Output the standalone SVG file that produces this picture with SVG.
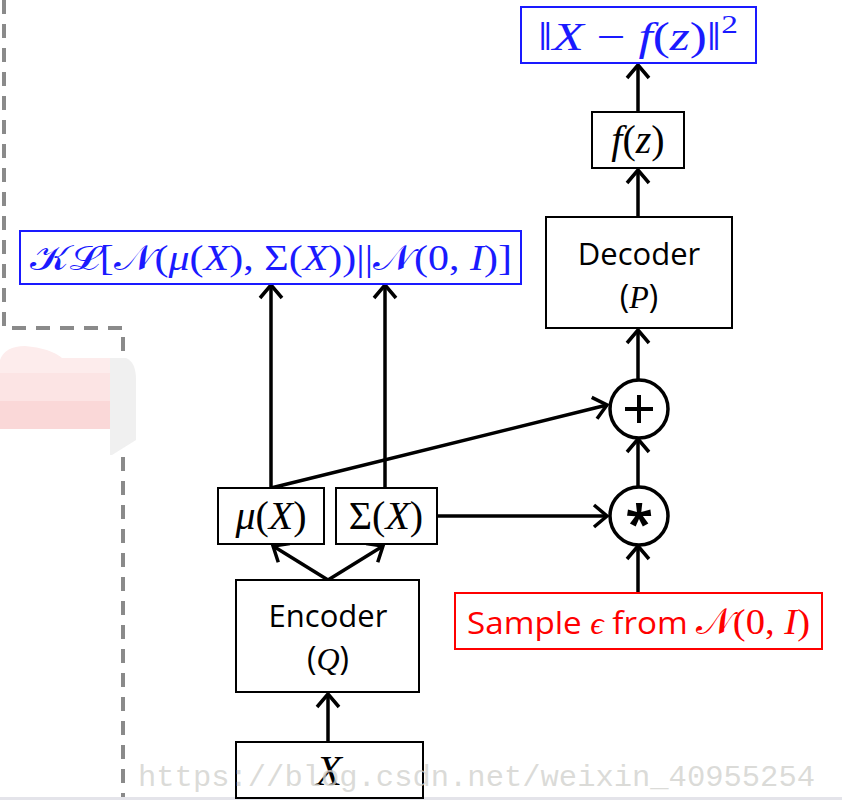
<svg xmlns="http://www.w3.org/2000/svg" width="842" height="800" viewBox="0 0 842 800">
<defs>
<style>
.box{fill:#fff;stroke:#000;stroke-width:2}
.bbox{fill:#fff;stroke:#1a1aff;stroke-width:2}
.rbox{fill:#fff;stroke:#ff0000;stroke-width:2}
.edge{stroke:#000;stroke-width:3.5;fill:none;marker-end:url(#arr)}
.math{font-family:"Liberation Serif","DejaVu Serif",serif}
.it{font-style:italic}
.sans{font-family:"Open Sans","Liberation Sans",sans-serif}
.dash{stroke:#8a8a8a;stroke-width:4;fill:none;stroke-dasharray:14 10}
</style>
<marker id="arr" viewBox="-16 -14 20 28" markerWidth="20" markerHeight="28" refX="0" refY="0" orient="auto" markerUnits="userSpaceOnUse">
<path d="M-13,-11 L0,0 L-13,11" fill="none" stroke="#000" stroke-width="3.5" stroke-linejoin="miter"/>
</marker>
</defs>
<rect width="842" height="800" fill="#fff"/>
<g id="background">
<path class="dash" d="M4,0 V328 H123 V800"/>
<path d="M0,360 Q5,346 25,346 Q50,348 62,358 H112 V373 H0 Z" fill="#fdecec"/>
<rect x="0" y="373" width="112" height="28" fill="#fce4e4"/>
<rect x="0" y="401" width="112" height="28" fill="#fad8d8"/>
<path d="M110,358 H126 Q136,362 136,380 V440 L112,455 H110 Z" fill="#f0f0f0"/>
<rect x="0" y="797" width="842" height="3" fill="#e4e4ea"/>
</g>
<g id="connectors">
<line class="edge" x1="638" y1="112" x2="638" y2="65"/>
<line class="edge" x1="638" y1="217" x2="638" y2="170"/>
<line class="edge" x1="638" y1="379" x2="638" y2="330"/>
<line class="edge" x1="638" y1="486" x2="638" y2="439"/>
<line class="edge" x1="638" y1="593" x2="638" y2="546"/>
<line class="edge" x1="271" y1="488" x2="271" y2="285"/>
<line class="edge" x1="385" y1="488" x2="385" y2="285"/>
<line class="edge" x1="271" y1="488" x2="607" y2="405"/>
<line class="edge" x1="437" y1="516" x2="607" y2="516"/>
<line class="edge" x1="328" y1="580" x2="273" y2="546"/>
<line class="edge" x1="328" y1="580" x2="383" y2="546"/>
<line class="edge" x1="328" y1="742" x2="328" y2="694"/>
</g>
<g id="loss">
<rect class="bbox" x="521" y="7" width="235" height="56"/>
<text class="math" x="538" y="50" font-size="40" fill="#1a1aff" textLength="200" lengthAdjust="spacingAndGlyphs">‖<tspan class="it">X</tspan> − <tspan class="it">f</tspan>(<tspan class="it">z</tspan>)‖<tspan font-size="26" dy="-17">2</tspan></text>
</g>
<g id="fz">
<rect class="box" x="592" y="112" width="92" height="56"/>
<text class="math" x="638" y="153" font-size="40" fill="#000" text-anchor="middle"><tspan class="it">f</tspan>(<tspan class="it">z</tspan>)</text>
</g>
<g id="decoder">
<rect class="box" x="546" y="217" width="186" height="111"/>
<text class="sans" x="639" y="265" font-size="31" fill="#000" text-anchor="middle">Decoder</text>
<text x="639" y="308" font-size="32" fill="#000" text-anchor="middle"><tspan class="sans">(</tspan><tspan class="math it">P</tspan><tspan class="sans">)</tspan></text>
</g>
<g id="plus">
<circle cx="639" cy="409" r="29" fill="#fff" stroke="#000" stroke-width="3.5"/>
<path d="M625,409 H653 M639,395 V423" stroke="#000" stroke-width="4"/>
</g>
<g id="times">
<circle cx="639" cy="516" r="29" fill="#fff" stroke="#000" stroke-width="3.5"/>
<text class="sans" x="639" y="541" font-size="50" font-weight="bold" fill="#000" text-anchor="middle">*</text>
</g>
<g id="sample">
<rect class="rbox" x="455" y="593" width="367" height="56"/>
<text x="467" y="634" font-size="31" fill="#ff0000" textLength="343" lengthAdjust="spacingAndGlyphs"><tspan class="sans">Sample </tspan><tspan class="math it">ϵ</tspan><tspan class="sans"> from </tspan><tspan class="math" font-size="36">𝒩</tspan><tspan class="math" font-size="36">(0, </tspan><tspan class="math it" font-size="36">I</tspan><tspan class="math" font-size="36">)</tspan></text>
</g>
<g id="kl">
<rect class="bbox" x="20" y="231" width="501" height="53"/>
<text class="math" x="30" y="270" font-size="35" fill="#1a1aff" textLength="482" lengthAdjust="spacingAndGlyphs">𝒦ℒ[𝒩(<tspan class="it">μ</tspan>(<tspan class="it">X</tspan>), Σ(<tspan class="it">X</tspan>))||𝒩(0, <tspan class="it">I</tspan>)]</text>
</g>
<g id="mu">
<rect class="box" x="218" y="488" width="106" height="56"/>
<text class="math" x="271" y="529" font-size="40" fill="#000" text-anchor="middle"><tspan class="it">μ</tspan>(<tspan class="it">X</tspan>)</text>
</g>
<g id="sigma">
<rect class="box" x="336" y="488" width="101" height="56"/>
<text class="math" x="386" y="529" font-size="40" fill="#000" text-anchor="middle">Σ(<tspan class="it">X</tspan>)</text>
</g>
<g id="encoder">
<rect class="box" x="236" y="580" width="183" height="112"/>
<text class="sans" x="328" y="627" font-size="31" fill="#000" text-anchor="middle">Encoder</text>
<text x="328" y="670" font-size="32" fill="#000" text-anchor="middle"><tspan class="sans">(</tspan><tspan class="math it">Q</tspan><tspan class="sans">)</tspan></text>
</g>
<g id="x">
<rect class="box" x="236" y="742" width="187" height="56"/>
<text class="math it" x="329" y="785" font-size="42" fill="#000" text-anchor="middle">X</text>
</g>
<text x="138" y="786" font-family="'Liberation Mono','DejaVu Sans Mono',monospace" font-size="30" fill="#d2d2ce" fill-opacity="0.8" textLength="677" lengthAdjust="spacingAndGlyphs">https://blog.csdn.net/weixin_40955254</text>
</svg>
